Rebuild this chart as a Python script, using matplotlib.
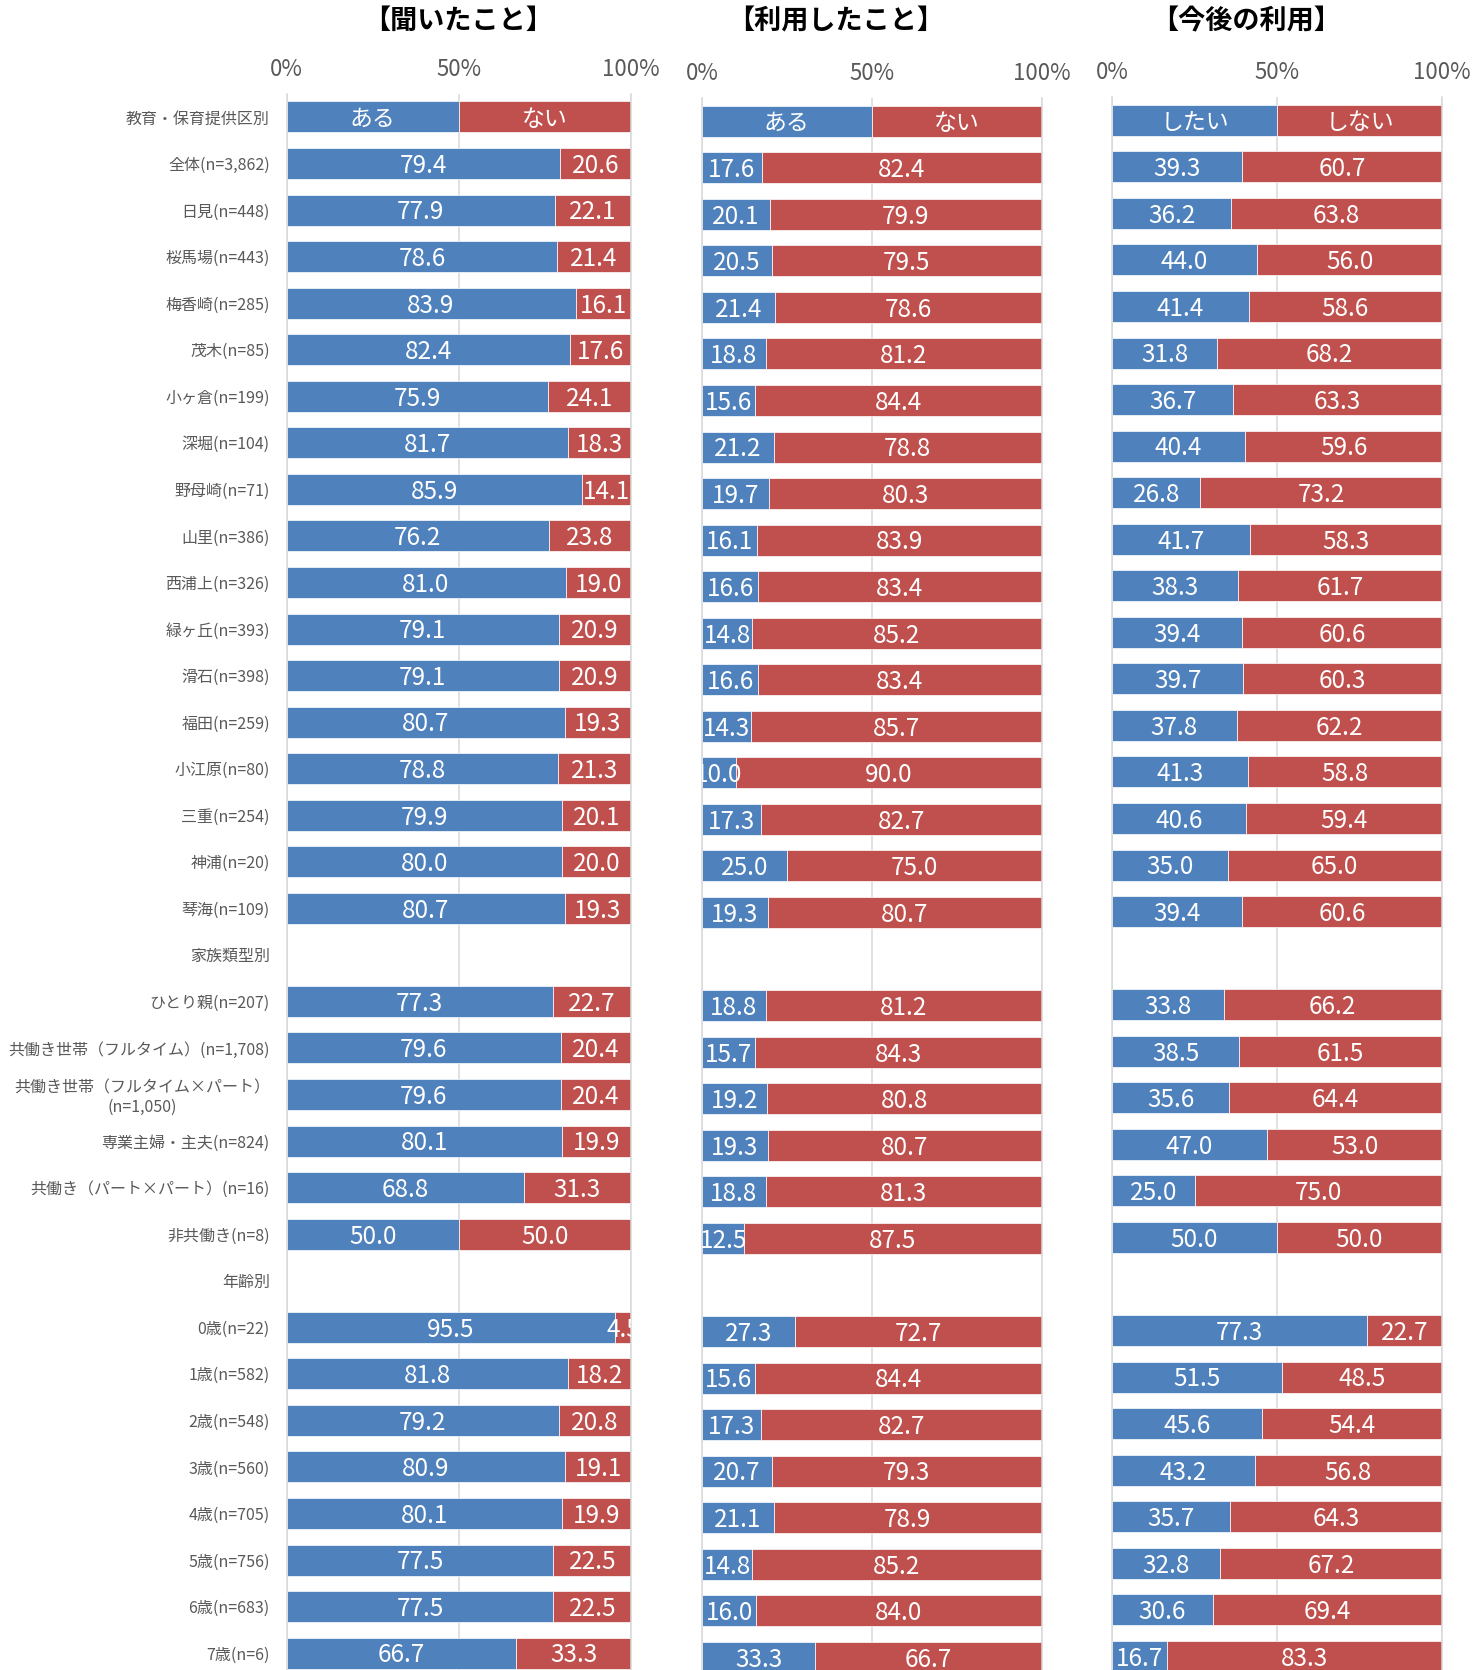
import matplotlib
matplotlib.use("Agg")
import matplotlib.pyplot as plt

plt.rcParams['font.family'] = ['Noto Sans CJK JP', 'DejaVu Sans']

# row labels (None rows in the value lists are section headings without bars)
row_labels = [
    "教育・保育提供区別",
    "全体(n=3,862)", "日見(n=448)", "桜馬場(n=443)", "梅香崎(n=285)", "茂木(n=85)",
    "小ヶ倉(n=199)", "深堀(n=104)", "野母崎(n=71)", "山里(n=386)", "西浦上(n=326)",
    "緑ヶ丘(n=393)", "滑石(n=398)", "福田(n=259)", "小江原(n=80)", "三重(n=254)",
    "神浦(n=20)", "琴海(n=109)",
    "家族類型別",
    "ひとり親(n=207)", "共働き世帯（フルタイム）(n=1,708)",
    "共働き世帯（フルタイム×パート）\n(n=1,050)", "専業主婦・主夫(n=824)",
    "共働き（パート×パート）(n=16)", "非共働き(n=8)",
    "年齢別",
    "0歳(n=22)", "1歳(n=582)", "2歳(n=548)", "3歳(n=560)", "4歳(n=705)",
    "5歳(n=756)", "6歳(n=683)", "7歳(n=6)",
]

# 【聞いたこと】 ある / ない
heard_yes = [None,
             79.4, 77.9, 78.6, 83.9, 82.4, 75.9, 81.7, 85.9, 76.2, 81.0, 79.1, 79.1, 80.7, 78.8, 79.9, 80.0, 80.7,
             None,
             77.3, 79.6, 79.6, 80.1, 68.8, 50.0,
             None,
             95.5, 81.8, 79.2, 80.9, 80.1, 77.5, 77.5, 66.7]
heard_no = [None,
            20.6, 22.1, 21.4, 16.1, 17.6, 24.1, 18.3, 14.1, 23.8, 19.0, 20.9, 20.9, 19.3, 21.3, 20.1, 20.0, 19.3,
            None,
            22.7, 20.4, 20.4, 19.9, 31.3, 50.0,
            None,
            4.5, 18.2, 20.8, 19.1, 19.9, 22.5, 22.5, 33.3]

# 【利用したこと】 ある / ない
used_yes = [None,
            17.6, 20.1, 20.5, 21.4, 18.8, 15.6, 21.2, 19.7, 16.1, 16.6, 14.8, 16.6, 14.3, 10.0, 17.3, 25.0, 19.3,
            None,
            18.8, 15.7, 19.2, 19.3, 18.8, 12.5,
            None,
            27.3, 15.6, 17.3, 20.7, 21.1, 14.8, 16.0, 33.3]
used_no = [None,
           82.4, 79.9, 79.5, 78.6, 81.2, 84.4, 78.8, 80.3, 83.9, 83.4, 85.2, 83.4, 85.7, 90.0, 82.7, 75.0, 80.7,
           None,
           81.2, 84.3, 80.8, 80.7, 81.3, 87.5,
           None,
           72.7, 84.4, 82.7, 79.3, 78.9, 85.2, 84.0, 66.7]

# 【今後の利用】 したい / しない
future_yes = [None,
              39.3, 36.2, 44.0, 41.4, 31.8, 36.7, 40.4, 26.8, 41.7, 38.3, 39.4, 39.7, 37.8, 41.3, 40.6, 35.0, 39.4,
              None,
              33.8, 38.5, 35.6, 47.0, 25.0, 50.0,
              None,
              77.3, 51.5, 45.6, 43.2, 35.7, 32.8, 30.6, 16.7]
future_no = [None,
             60.7, 63.8, 56.0, 58.6, 68.2, 63.3, 59.6, 73.2, 58.3, 61.7, 60.6, 60.3, 62.2, 58.8, 59.4, 65.0, 60.6,
             None,
             66.2, 61.5, 64.4, 53.0, 75.0, 50.0,
             None,
             22.7, 48.5, 54.4, 56.8, 64.3, 67.2, 69.4, 83.3]

panel_titles = ["【聞いたこと】", "【利用したこと】", "【今後の利用】"]
answer_names = [("ある", "ない"), ("ある", "ない"), ("したい", "しない")]
header_split = [50, 50]

BLUE = "#4F81BD"
RED = "#C0504D"
GRAY = "#595959"

W, H = 1479, 1670
ROW_PX = 46.55
BAR_H = 0.666
TEXT_DY = 0.05  # nudge in-bar text down a little (y axis is inverted)


def panel_axes(fig, x0, x1, top):
    """Axes in pixel terms; 34 rows tall, may run past the bottom edge."""
    n = len(row_labels)
    height = n * ROW_PX
    return fig.add_axes([x0 / W, 1 - (top + height) / H, (x1 - x0) / W, height / H])


def bar_text(ax, x, y, s, size):
    ax.text(x, y + TEXT_DY, s, ha="center", va="center", color="white",
            fontsize=size, clip_on=True)


def draw_panel(ax, yes, no, names, show_labels):
    n = len(row_labels)
    ys = list(range(n))

    # legend-like header row
    ax.barh(0, header_split[0], left=0, height=BAR_H, color=BLUE, edgecolor="white", linewidth=0.5)
    ax.barh(0, header_split[1], left=header_split[0], height=BAR_H, color=RED, edgecolor="white", linewidth=0.5)
    bar_text(ax, header_split[0] / 2, 0, names[0], 16.5)
    bar_text(ax, header_split[0] + header_split[1] / 2, 0, names[1], 16.5)

    for y, a, b in zip(ys, yes, no):
        if a is None:
            continue
        ax.barh(y, a, left=0, height=BAR_H, color=BLUE, edgecolor="white", linewidth=0.5)
        ax.barh(y, b, left=a, height=BAR_H, color=RED, edgecolor="white", linewidth=0.5)
        bar_text(ax, a / 2, y, f"{a:.1f}", 17.5)
        bar_text(ax, a + b / 2, y, f"{b:.1f}", 17.5)

    ax.set_xlim(0, 100)
    ax.set_ylim(n - 0.5, -0.5)
    ax.xaxis.set_ticks_position("top")
    ax.set_xticks([0, 50, 100])
    ax.set_xticklabels(["0%", "50%", "100%"])
    ax.tick_params(axis="x", length=0, pad=9, labelsize=16, labelcolor=GRAY)
    ax.grid(axis="x", color="#D9D9D9", linewidth=1.1)
    ax.set_axisbelow(True)
    for side in ["top", "bottom"]:
        ax.spines[side].set_visible(False)
    for side in ["left", "right"]:
        ax.spines[side].set_color("#D9D9D9")
        ax.spines[side].set_linewidth(1.1)

    if show_labels:
        ax.set_yticks(ys)
        ax.set_yticklabels(row_labels, fontsize=11.5, color=GRAY, multialignment="center")
        ax.tick_params(axis="y", length=0, pad=12)
    else:
        ax.set_yticks([])


fig = plt.figure(figsize=(W / 100, H / 100), dpi=100)

panels = [
    (286.5, 631.0, 93.7, heard_yes, heard_no),
    (702.0, 1041.5, 97.9, used_yes, used_no),
    (1112.0, 1442.0, 97.0, future_yes, future_no),
]
title_x = [458, 836, 1246]

for i, (x0, x1, top, yes, no) in enumerate(panels):
    ax = panel_axes(fig, x0, x1, top)
    draw_panel(ax, yes, no, answer_names[i], show_labels=(i == 0))
    fig.text(title_x[i] / W, 1 - 21 / H, panel_titles[i], ha="center", va="center",
             fontsize=19.5, fontweight="bold", color="black")

fig.savefig("out.png", dpi=100)
plt.close(fig)
